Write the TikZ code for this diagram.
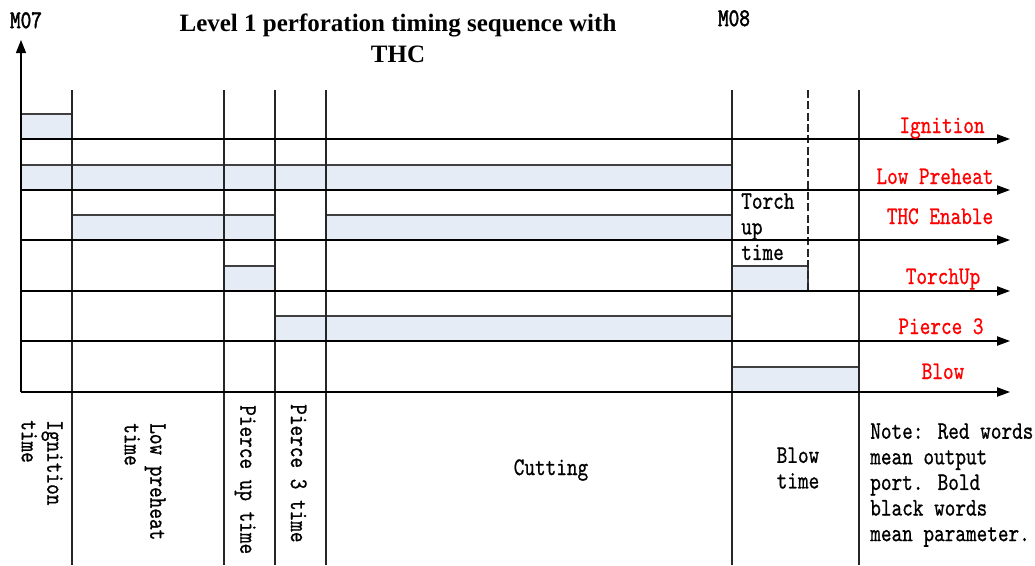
\documentclass[tikz,border=0pt]{standalone}
\usepackage{fontspec}
\setmainfont{Liberation Serif}
\newfontfamily\sigfont{lmmono10-regular.otf}[FakeStretch=0.8,FakeBold=0.7]
\newfontfamily\sigfontb{lmmono10-regular.otf}[FakeStretch=0.8,FakeBold=2]
\usepackage{xcolor}
\usepackage{tikz}
\usetikzlibrary{arrows.meta}
\definecolor{pulsefill}{HTML}{E6ECF6}
\definecolor{portred}{HTML}{FF0000}

\begin{document}
\begin{tikzpicture}[x=0.75pt,y=-0.75pt,>={Triangle[length=9.75pt,width=7pt]},
  lbl/.style={font={\sigfont\fontsize{19}{19.2}\selectfont},inner sep=0pt},
  port/.style={lbl,text=portred,anchor=base},
  mcode/.style={font={\sigfontb\fontsize{19}{19.2}\selectfont},inner sep=0pt,anchor=base},
  pulse/.style={fill=pulsefill,draw=black!75,line width=0.8pt},
  grid/.style={line width=0.8pt,black!85},
  axis/.style={->,line width=0.9pt}]
\useasboundingbox (0,0) rectangle (1035,565);
% pulses
\foreach \xa/\xb/\yt in {21/72/114,21/732/165,72/275/215,326/732/215,224/275/266,732/808/266,275/732/316,732/859/367}
  \draw[pulse] (\xa,\yt+25) rectangle (\xb,\yt);
% time grid
\foreach \x/\n in {72/1,224/2,275/3,326/4,732/5,859/6}{
  \coordinate (gt\n) at (\x,90); \coordinate (gb\n) at (\x,565);
  \draw[grid] (gt\n) -- (gb\n);}
\coordinate (dt) at (808,90); \coordinate (db) at (808,291);
\draw[grid,dash pattern=on 6pt off 2.5pt] (dt) -- (db);
% axes and output ports
\coordinate (o) at (21,392); \coordinate (ytop) at (21,40);
\draw[axis,>={Triangle[length=9.75pt,width=7.5pt]}] (o) -- (ytop);
\foreach \y/\n/\lab/\lx/\ly in {139/1/Ignition/942/133,190/2/Low Preheat/935/184,240/3/THC Enable/940/224,291/4/TorchUp/943/284,341/5/Pierce 3/941/334,392/6/Blow/943/379}{
  \coordinate (s\n) at (21,\y); \coordinate (e\n) at (1010,\y);
  \draw[axis] (s\n) -- (e\n);
  \node[port] (p\n) at (\lx,\ly) {\lab};}
\node[font={\bfseries\fontsize{18.75}{23.25}\selectfont},align=center,anchor=north,inner sep=0pt] (title) at (398,14) {Level 1 perforation timing sequence with\\THC};
\node[mcode] (m07) at (26,28) {M07};
\node[mcode] (m08) at (734,26) {M08};
\node[lbl,align=left,anchor=north west] (tut) at (741,193) {Torch\\up\\time};
% time labels
\node[lbl,rotate=-90,align=left,anchor=north west] (ign) at (63,420) {Ignition\\time};
\node[lbl,rotate=-90,align=left,anchor=north west] (lpt) at (166,423) {Low preheat\\time};
\node[lbl,rotate=-90,anchor=north west] (put) at (256,405) {Pierce up time};
\node[lbl,rotate=-90,anchor=north west] (p3t) at (307,404) {Pierce 3 time};
\node[lbl,anchor=base] (cut) at (551,475) {Cutting};
\node[lbl,align=center] (bt) at (798,468) {Blow\\time};
\node[lbl,align=left,anchor=north west] (note) at (870,423) {Note: Red words\\mean output\\port. Bold\\black words\\mean parameter.};
\end{tikzpicture}
\end{document}
